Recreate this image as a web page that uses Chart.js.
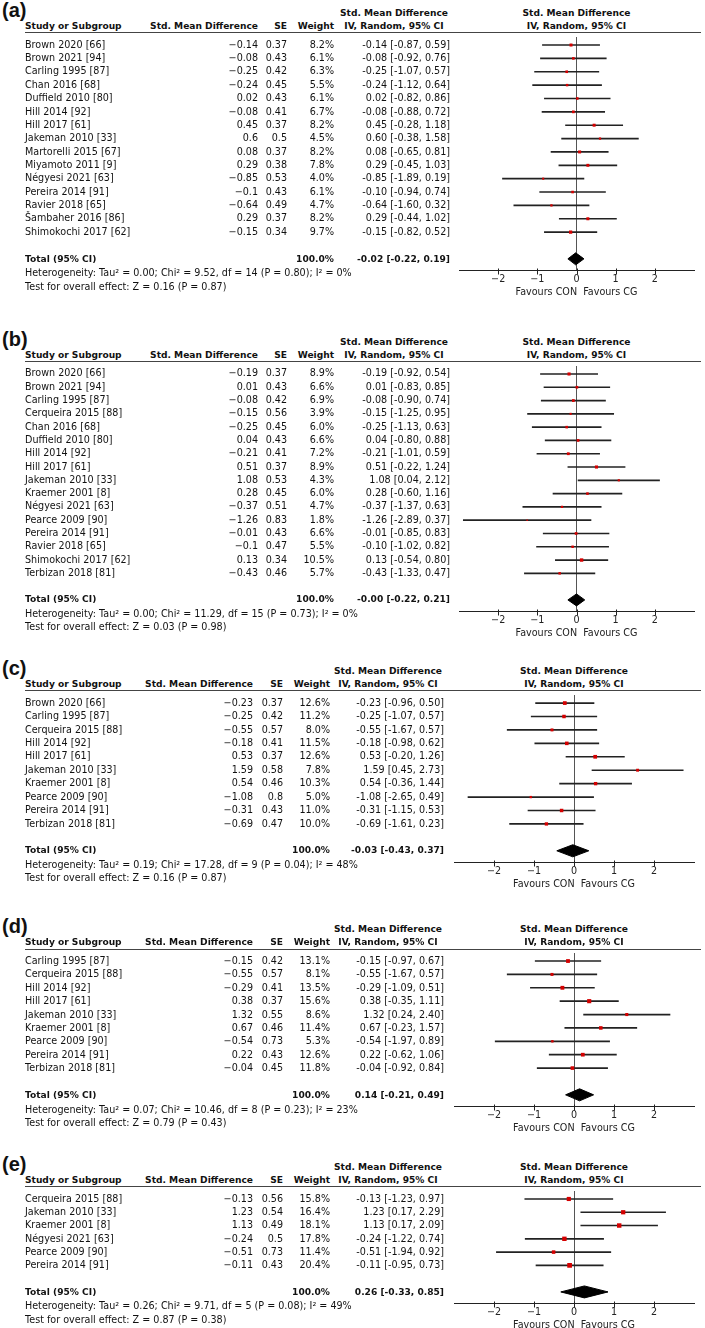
<!DOCTYPE html>
<html>
<head>
<meta charset="utf-8">
<script src="https://cdn.jsdelivr.net/npm/chart.js@4.4.0/dist/chart.umd.min.js"></script>
<style>
  body { margin: 0; background: #fff; width: 705px; height: 1328px; position: relative; overflow: hidden;
         font-family: "DejaVu Sans", sans-serif; font-size: 9.6px; color: #111; }
  .t { position: absolute; white-space: nowrap; line-height: 12px; transform: translateY(-50%); }
  .b { font-weight: bold; font-size: 9.1px; }
  .lab { position: absolute; font: bold 20px "Liberation Sans", Arial, sans-serif; line-height: 20px; }
  .hl { position: absolute; height: 1px; background: #444; }
  .box { position: absolute; left: 0; width: 705px; }
</style>
</head>
<body>
<script>
const tickValues = [-2, -1, 0, 1, 2];

// (a)
const aStudies = ['Brown 2020 [66]', 'Brown 2021 [94]', 'Carling 1995 [87]', 'Chan 2016 [68]', 'Duffield 2010 [80]',
  'Hill 2014 [92]', 'Hill 2017 [61]', 'Jakeman 2010 [33]', 'Martorelli 2015 [67]', 'Miyamoto 2011 [9]',
  'Négyesi 2021 [63]', 'Pereira 2014 [91]', 'Ravier 2018 [65]', 'Šambaher 2016 [86]', 'Shimokochi 2017 [62]'];
const aSmd = [-0.14, -0.08, -0.25, -0.24, 0.02, -0.08, 0.45, 0.6, 0.08, 0.29, -0.85, -0.1, -0.64, 0.29, -0.15];
const aSe = [0.37, 0.43, 0.42, 0.45, 0.43, 0.41, 0.37, 0.5, 0.37, 0.38, 0.53, 0.43, 0.49, 0.37, 0.34];
const aWeight = [8.2, 6.1, 6.3, 5.5, 6.1, 6.7, 8.2, 4.5, 8.2, 7.8, 4.0, 6.1, 4.7, 8.2, 9.7];
const aLo = [-0.87, -0.92, -1.07, -1.12, -0.82, -0.88, -0.28, -0.38, -0.65, -0.45, -1.89, -0.94, -1.60, -0.44, -0.82];
const aHi = [0.59, 0.76, 0.57, 0.64, 0.86, 0.72, 1.18, 1.58, 0.81, 1.03, 0.19, 0.74, 0.32, 1.02, 0.52];
const aTotal = [-0.02, -0.22, 0.19];
const aHet = 'Heterogeneity: Tau² = 0.00; Chi² = 9.52, df = 14 (P = 0.80); I² = 0%';
const aTest = 'Test for overall effect: Z = 0.16 (P = 0.87)';

// (b)
const bStudies = ['Brown 2020 [66]', 'Brown 2021 [94]', 'Carling 1995 [87]', 'Cerqueira 2015 [88]', 'Chan 2016 [68]',
  'Duffield 2010 [80]', 'Hill 2014 [92]', 'Hill 2017 [61]', 'Jakeman 2010 [33]', 'Kraemer 2001 [8]',
  'Négyesi 2021 [63]', 'Pearce 2009 [90]', 'Pereira 2014 [91]', 'Ravier 2018 [65]', 'Shimokochi 2017 [62]', 'Terbizan 2018 [81]'];
const bSmd = [-0.19, 0.01, -0.08, -0.15, -0.25, 0.04, -0.21, 0.51, 1.08, 0.28, -0.37, -1.26, -0.01, -0.1, 0.13, -0.43];
const bSe = [0.37, 0.43, 0.42, 0.56, 0.45, 0.43, 0.41, 0.37, 0.53, 0.45, 0.51, 0.83, 0.43, 0.47, 0.34, 0.46];
const bWeight = [8.9, 6.6, 6.9, 3.9, 6.0, 6.6, 7.2, 8.9, 4.3, 6.0, 4.7, 1.8, 6.6, 5.5, 10.5, 5.7];
const bLo = [-0.92, -0.83, -0.90, -1.25, -1.13, -0.80, -1.01, -0.22, 0.04, -0.60, -1.37, -2.89, -0.85, -1.02, -0.54, -1.33];
const bHi = [0.54, 0.85, 0.74, 0.95, 0.63, 0.88, 0.59, 1.24, 2.12, 1.16, 0.63, 0.37, 0.83, 0.82, 0.80, 0.47];
const bTotal = [-0.00, -0.22, 0.21];
const bHet = 'Heterogeneity: Tau² = 0.00; Chi² = 11.29, df = 15 (P = 0.73); I² = 0%';
const bTest = 'Test for overall effect: Z = 0.03 (P = 0.98)';

// (c)
const cStudies = ['Brown 2020 [66]', 'Carling 1995 [87]', 'Cerqueira 2015 [88]', 'Hill 2014 [92]', 'Hill 2017 [61]',
  'Jakeman 2010 [33]', 'Kraemer 2001 [8]', 'Pearce 2009 [90]', 'Pereira 2014 [91]', 'Terbizan 2018 [81]'];
const cSmd = [-0.23, -0.25, -0.55, -0.18, 0.53, 1.59, 0.54, -1.08, -0.31, -0.69];
const cSe = [0.37, 0.42, 0.57, 0.41, 0.37, 0.58, 0.46, 0.8, 0.43, 0.47];
const cWeight = [12.6, 11.2, 8.0, 11.5, 12.6, 7.8, 10.3, 5.0, 11.0, 10.0];
const cLo = [-0.96, -1.07, -1.67, -0.98, -0.20, 0.45, -0.36, -2.65, -1.15, -1.61];
const cHi = [0.50, 0.57, 0.57, 0.62, 1.26, 2.73, 1.44, 0.49, 0.53, 0.23];
const cTotal = [-0.03, -0.43, 0.37];
const cHet = 'Heterogeneity: Tau² = 0.19; Chi² = 17.28, df = 9 (P = 0.04); I² = 48%';
const cTest = 'Test for overall effect: Z = 0.16 (P = 0.87)';

// (d)
const dStudies = ['Carling 1995 [87]', 'Cerqueira 2015 [88]', 'Hill 2014 [92]', 'Hill 2017 [61]', 'Jakeman 2010 [33]',
  'Kraemer 2001 [8]', 'Pearce 2009 [90]', 'Pereira 2014 [91]', 'Terbizan 2018 [81]'];
const dSmd = [-0.15, -0.55, -0.29, 0.38, 1.32, 0.67, -0.54, 0.22, -0.04];
const dSe = [0.42, 0.57, 0.41, 0.37, 0.55, 0.46, 0.73, 0.43, 0.45];
const dWeight = [13.1, 8.1, 13.5, 15.6, 8.6, 11.4, 5.3, 12.6, 11.8];
const dLo = [-0.97, -1.67, -1.09, -0.35, 0.24, -0.23, -1.97, -0.62, -0.92];
const dHi = [0.67, 0.57, 0.51, 1.11, 2.40, 1.57, 0.89, 1.06, 0.84];
const dTotal = [0.14, -0.21, 0.49];
const dHet = 'Heterogeneity: Tau² = 0.07; Chi² = 10.46, df = 8 (P = 0.23); I² = 23%';
const dTest = 'Test for overall effect: Z = 0.79 (P = 0.43)';

// (e)
const eStudies = ['Cerqueira 2015 [88]', 'Jakeman 2010 [33]', 'Kraemer 2001 [8]', 'Négyesi 2021 [63]',
  'Pearce 2009 [90]', 'Pereira 2014 [91]'];
const eSmd = [-0.13, 1.23, 1.13, -0.24, -0.51, -0.11];
const eSe = [0.56, 0.54, 0.49, 0.5, 0.73, 0.43];
const eWeight = [15.8, 16.4, 18.1, 17.8, 11.4, 20.4];
const eLo = [-1.23, 0.17, 0.17, -1.22, -1.94, -0.95];
const eHi = [0.97, 2.29, 2.09, 0.74, 0.92, 0.73];
const eTotal = [0.26, -0.33, 0.85];
const eHet = 'Heterogeneity: Tau² = 0.26; Chi² = 9.71, df = 5 (P = 0.08); I² = 49%';
const eTest = 'Test for overall effect: Z = 0.87 (P = 0.38)';

// layout of each panel: header rule y, row pitch, plot left edge, right edges of the table columns
const panels = [
  { label: '(a)', studies: aStudies, smd: aSmd, se: aSe, weight: aWeight, lo: aLo, hi: aHi, total: aTotal, het: aHet, test: aTest,
    top: 32.7, pitch: 13.62, left: 459, cols: [258, 287, 334, 450] },
  { label: '(b)', studies: bStudies, smd: bSmd, se: bSe, weight: bWeight, lo: bLo, hi: bHi, total: bTotal, het: bHet, test: bTest,
    top: 361.5, pitch: 13.5, left: 459, cols: [258, 287, 334, 450] },
  { label: '(c)', studies: cStudies, smd: cSmd, se: cSe, weight: cWeight, lo: cLo, hi: cHi, total: cTotal, het: cHet, test: cTest,
    top: 690.7, pitch: 13.74, left: 454, cols: [253, 283, 330, 444] },
  { label: '(d)', studies: dStudies, smd: dSmd, se: dSe, weight: dWeight, lo: dLo, hi: dHi, total: dTotal, het: dHet, test: dTest,
    top: 949, pitch: 13.75, left: 454, cols: [253, 283, 330, 444] },
  { label: '(e)', studies: eStudies, smd: eSmd, se: eSe, weight: eWeight, lo: eLo, hi: eHi, total: eTotal, het: eHet, test: eTest,
    top: 1186.7, pitch: 13.8, left: 454, cols: [253, 283, 330, 444] }
];
const plotRight = 694;

const font = { family: 'DejaVu Sans', size: 9.6, lineHeight: 1.1 };

function minus(s) { return s.replace('-', '−'); }
function fmt(v) { return (v < 0 || Object.is(v, -0) ? '-' : '') + Math.abs(v).toFixed(2); }
function ci(est, lo, hi) { return fmt(est) + ' [' + fmt(lo) + ', ' + fmt(hi) + ']'; }

function txt(s, x, y, align, cls) {
  const d = document.createElement('div');
  d.className = 't' + (cls ? ' ' + cls : '');
  d.textContent = s;
  d.style.top = y + 'px';
  if (align === 'r') d.style.right = (705 - x) + 'px';
  else if (align === 'c') { d.style.left = x + 'px'; d.style.transform = 'translate(-50%,-50%)'; }
  else d.style.left = x + 'px';
  document.body.appendChild(d);
}

// tick marks that cross the axis line, like RevMan draws them
const crossTicks = {
  id: 'crossTicks',
  afterDraw(chart) {
    const xs = chart.scales.x, ctx = chart.ctx;
    const y = Math.round(chart.chartArea.bottom) + 0.5;
    ctx.save();
    ctx.strokeStyle = '#222';
    ctx.lineWidth = 1;
    tickValues.forEach(v => {
      const x = Math.round(xs.getPixelForValue(v)) + 0.5;
      ctx.beginPath();
      ctx.moveTo(x, y - 3);
      ctx.lineTo(x, y + 3);
      ctx.stroke();
    });
    ctx.restore();
  }
};

function drawPanel(p) {
  const n = p.studies.length;
  const yMin = -0.6, yMax = n + 1.9;
  const tot = n + 1;
  const areaH = (yMax - yMin) * p.pitch;

  const box = document.createElement('div');
  box.className = 'box';
  box.style.top = p.top + 'px';
  const cv = document.createElement('canvas');
  cv.width = 705;
  cv.height = Math.round(areaH + 32);
  cv.style.width = '705px';
  cv.style.height = cv.height + 'px';
  box.appendChild(cv);
  document.body.appendChild(box);

  const chart = new Chart(cv, {
    type: 'scatter',
    data: {
      datasets: [
        { // confidence intervals
          type: 'bar', indexAxis: 'y',
          data: p.lo.map((l, i) => ({ x: [l, p.hi[i]], y: i })),
          backgroundColor: '#222', barThickness: 1, borderWidth: 0, order: 3
        },
        { // study estimates
          type: 'scatter',
          data: p.smd.map((v, i) => ({ x: v, y: i })),
          pointStyle: 'rect', pointRadius: p.weight.map(w => 0.74 * Math.sqrt(w)),
          backgroundColor: '#d40000', borderWidth: 0, order: 1
        },
        { // pooled estimate diamond
          type: 'scatter', showLine: true, fill: 'shape',
          data: [
            { x: p.total[1], y: tot }, { x: p.total[0], y: tot - 0.45 },
            { x: p.total[2], y: tot }, { x: p.total[0], y: tot + 0.45 }, { x: p.total[1], y: tot }
          ],
          borderColor: '#000', backgroundColor: '#000', borderWidth: 1, pointRadius: 0, order: 2
        }
      ]
    },
    options: {
      responsive: false,
      maintainAspectRatio: false,
      animation: false,
      layout: { padding: { left: p.left, right: 705 - plotRight, top: 0, bottom: 0 } },
      plugins: { legend: { display: false }, tooltip: { enabled: false } },
      scales: {
        x: {
          type: 'linear', min: -3, max: 3, offset: false,
          afterBuildTicks: s => { s.ticks = tickValues.map(v => ({ value: v })); },
          afterFit: s => { s.paddingLeft = 0; s.paddingRight = 0; },
          ticks: { callback: v => v < 0 ? '−' + Math.abs(v) : String(v), font: font, color: '#222', padding: 3, maxRotation: 0, autoSkip: false },
          grid: { drawOnChartArea: true, drawTicks: false, offset: false, lineWidth: 1,
                  color: c => (c.tick && c.tick.value === 0) ? '#555' : 'rgba(0,0,0,0)' },
          border: { display: true, color: '#222', width: 1 },
          title: { display: true, text: 'Favours CON  Favours CG', font: font, color: '#222', padding: { top: 0, bottom: 0 } }
        },
        y: { type: 'linear', min: yMin, max: yMax, reverse: true, offset: false, display: false }
      }
    },
    plugins: [crossTicks]
  });

  // size canvas so the plotting area spans the rows exactly
  const extra = chart.height - chart.chartArea.bottom;
  const h = Math.round(areaH + extra);
  cv.style.height = h + 'px';
  chart.resize(705, h);

  const rowY = i => p.top + chart.scales.y.getPixelForValue(i);

  const lab = document.createElement('div');
  lab.className = 'lab';
  lab.textContent = p.label;
  lab.style.left = '2px';
  lab.style.top = (p.top - 33) + 'px';
  document.body.appendChild(lab);

  const hl = document.createElement('div');
  hl.className = 'hl';
  hl.style.left = '25px';
  hl.style.width = '676px';
  hl.style.top = (p.top - 0.5) + 'px';
  document.body.appendChild(hl);

  const h1 = p.top - 20, h2 = p.top - 6.7;
  const plotMid = p.left + (plotRight - p.left) / 2;
  txt('Std. Mean Difference', p.cols[3] - 56, h1, 'c', 'b');
  txt('Std. Mean Difference', plotMid, h1, 'c', 'b');
  txt('Study or Subgroup', 25, h2, 'l', 'b');
  txt('Std. Mean Difference', p.cols[0], h2, 'r', 'b');
  txt('SE', p.cols[1], h2, 'r', 'b');
  txt('Weight', p.cols[2], h2, 'r', 'b');
  txt('IV, Random, 95% CI', p.cols[3] - 56, h2, 'c', 'b');
  txt('IV, Random, 95% CI', plotMid, h2, 'c', 'b');

  p.studies.forEach((s, i) => {
    const y = rowY(i);
    txt(s, 25, y, 'l');
    txt(minus(String(p.smd[i])), p.cols[0], y, 'r');
    txt(String(p.se[i]), p.cols[1], y, 'r');
    txt(p.weight[i].toFixed(1) + '%', p.cols[2], y, 'r');
    txt(ci(p.smd[i], p.lo[i], p.hi[i]), p.cols[3], y, 'r');
  });

  const ty = rowY(tot);
  txt('Total (95% CI)', 25, ty, 'l', 'b');
  txt('100.0%', p.cols[2], ty, 'r', 'b');
  txt(ci(p.total[0], p.total[1], p.total[2]), p.cols[3], ty, 'r', 'b');
  txt(p.het, 25, ty + 14.8, 'l');
  txt(p.test, 25, ty + 28, 'l');
}

panels.forEach(drawPanel);
</script>
</body>
</html>
